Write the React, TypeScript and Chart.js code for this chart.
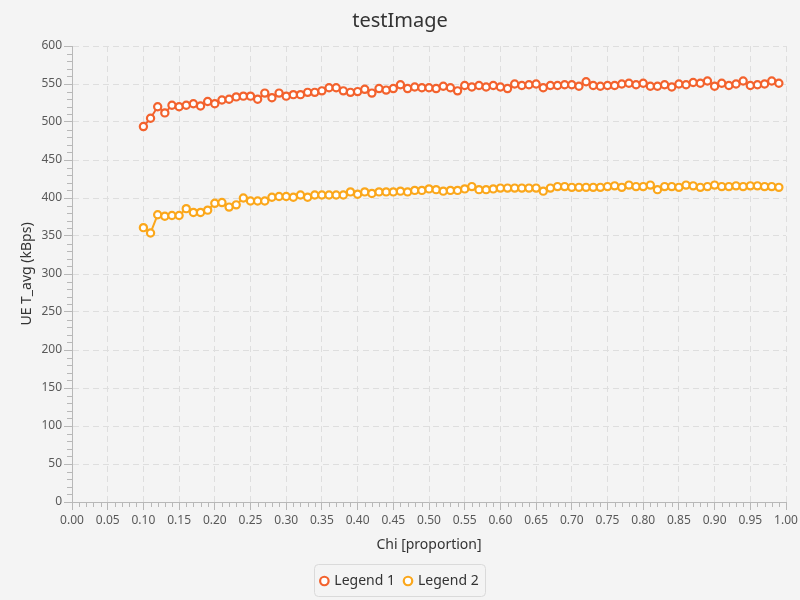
import React, { useEffect, useRef } from "react";
import { Chart, registerables } from "chart.js";

Chart.register(...registerables);

const TITLE = "testImage";
const X_TITLE = "Chi [proportion]";
const Y_TITLE = "UE T_avg (kBps)";
const SERIES_NAMES = ["Legend 1", "Legend 2"];

const X_VALUES = [
  0.10, 0.11, 0.12, 0.13, 0.14, 0.15, 0.16, 0.17, 0.18, 0.19,
  0.20, 0.21, 0.22, 0.23, 0.24, 0.25, 0.26, 0.27, 0.28, 0.29,
  0.30, 0.31, 0.32, 0.33, 0.34, 0.35, 0.36, 0.37, 0.38, 0.39,
  0.40, 0.41, 0.42, 0.43, 0.44, 0.45, 0.46, 0.47, 0.48, 0.49,
  0.50, 0.51, 0.52, 0.53, 0.54, 0.55, 0.56, 0.57, 0.58, 0.59,
  0.60, 0.61, 0.62, 0.63, 0.64, 0.65, 0.66, 0.67, 0.68, 0.69,
  0.70, 0.71, 0.72, 0.73, 0.74, 0.75, 0.76, 0.77, 0.78, 0.79,
  0.80, 0.81, 0.82, 0.83, 0.84, 0.85, 0.86, 0.87, 0.88, 0.89,
  0.90, 0.91, 0.92, 0.93, 0.94, 0.95, 0.96, 0.97, 0.98, 0.99,
];

const SERIES_1 = [
  494, 505, 520, 512, 522, 520, 522, 524, 521, 527,
  524, 529, 530, 533, 534, 534, 530, 538, 532, 538,
  534, 536, 536, 539, 539, 541, 545, 545, 541, 539,
  540, 543, 538, 544, 542, 544, 549, 544, 546, 545,
  545, 544, 547, 545, 541, 548, 546, 548, 546, 548,
  546, 544, 550, 548, 549, 550, 545, 548, 548, 549,
  549, 547, 553, 548, 547, 548, 548, 550, 551, 549,
  551, 547, 547, 549, 546, 550, 549, 552, 551, 554,
  547, 551, 548, 550, 554, 548, 549, 550, 554, 551,
];

const SERIES_2 = [
  361, 354, 378, 376, 377, 377, 386, 381, 381, 384,
  393, 394, 388, 391, 400, 396, 396, 396, 401, 402,
  402, 401, 404, 401, 404, 404, 404, 404, 404, 408,
  405, 408, 406, 408, 408, 408, 409, 408, 410, 410,
  412, 411, 409, 410, 410, 412, 415, 411, 411, 412,
  413, 413, 413, 413, 413, 413, 409, 413, 415, 415,
  414, 414, 414, 414, 414, 415, 416, 414, 417, 415,
  415, 417, 411, 415, 415, 414, 417, 416, 414, 415,
  417, 415, 415, 416, 415, 416, 416, 415, 415, 414,
];

const X_MIN = 0;
const X_MAX = 1;
const X_STEP = 0.05;
const X_MINOR_STEP = 0.01;
const Y_MIN = 0;
const Y_MAX = 600;
const Y_STEP = 50;
const Y_MINOR_STEP = 10;

const COLORS = ["#f3622d", "#fba71b"];
const BG = "#f4f4f4";
const AXIS_COLOR = "#b8b8b8";
const GRID_COLOR = "#dedede";
const FONT = "'Noto Sans', 'Open Sans', sans-serif";

const minorTicksPlugin = {
  id: "minorTicks",
  afterDraw(chart: any) {
    const { ctx } = chart;
    const xs = chart.scales.x;
    const ys = chart.scales.y;
    ctx.save();
    ctx.strokeStyle = AXIS_COLOR;
    ctx.lineWidth = 1;
    ctx.beginPath();
    const nx = Math.round((X_MAX - X_MIN) / X_MINOR_STEP);
    const perX = Math.round(X_STEP / X_MINOR_STEP);
    for (let i = 0; i <= nx; i++) {
      if (i % perX === 0) continue;
      const px = Math.round(xs.getPixelForValue(X_MIN + i * X_MINOR_STEP)) + 0.5;
      ctx.moveTo(px, ys.bottom);
      ctx.lineTo(px, ys.bottom + 5);
    }
    const ny = Math.round((Y_MAX - Y_MIN) / Y_MINOR_STEP);
    const perY = Math.round(Y_STEP / Y_MINOR_STEP);
    for (let i = 0; i <= ny; i++) {
      if (i % perY === 0) continue;
      const py = Math.round(ys.getPixelForValue(Y_MIN + i * Y_MINOR_STEP)) + 0.5;
      ctx.moveTo(xs.left - 5, py);
      ctx.lineTo(xs.left, py);
    }
    ctx.stroke();
    ctx.restore();
  },
};

const legendBoxPlugin = {
  id: "legendBox",
  beforeDraw(chart: any) {
    const { ctx } = chart;
    ctx.save();
    ctx.fillStyle = BG;
    ctx.fillRect(0, 0, chart.width, chart.height);
    ctx.restore();
  },
  afterDraw(chart: any) {
    const lg = chart.legend;
    if (!lg || !lg.legendHitBoxes || !lg.legendHitBoxes.length) return;
    const hb = lg.legendHitBoxes;
    const last = hb[hb.length - 1];
    const left = Math.round(hb[0].left - 7) + 0.5;
    const right = Math.round(last.left + last.width + 6) + 0.5;
    const top = Math.round(lg.top) + 0.5;
    const bottom = Math.round(lg.bottom - 2) + 0.5;
    const { ctx } = chart;
    ctx.save();
    ctx.beginPath();
    (ctx as any).roundRect(left, top, right - left, bottom - top, 4);
    ctx.strokeStyle = "#dadada";
    ctx.lineWidth = 1;
    ctx.stroke();
    ctx.restore();
  },
};

export default function App() {
  const ref = useRef<HTMLCanvasElement | null>(null);

  useEffect(() => {
    if (!ref.current) return;
    const datasets = [SERIES_1, SERIES_2].map((vals, k) => ({
      label: SERIES_NAMES[k],
      data: vals.map((v, i) => ({ x: X_VALUES[i], y: v })),
      borderColor: COLORS[k],
      backgroundColor: "#ffffff",
      borderWidth: 2,
      pointRadius: 3.6,
      pointBorderWidth: 2.2,
      pointBackgroundColor: "#ffffff",
      pointBorderColor: COLORS[k],
      pointStyle: "circle",
      tension: 0,
      fill: false,
    }));

    const chart = new Chart(ref.current, {
      type: "line",
      data: { datasets },
      plugins: [legendBoxPlugin, minorTicksPlugin],
      options: {
        animation: false,
        responsive: false,
        events: [],
        layout: { padding: { left: 0, right: 0, top: 2, bottom: 2 } },
        scales: {
          x: {
            type: "linear",
            min: X_MIN,
            max: X_MAX,
            afterFit: (s: any) => {
              s.height = 62;
              s.paddingLeft = 0;
              s.paddingRight = 14;
            },
            ticks: {
              stepSize: X_STEP,
              autoSkip: false,
              maxRotation: 0,
              padding: 3,
              color: "#595959",
              font: { family: FONT, size: 12 },
              callback: (v: any) => Number(v).toFixed(2),
            },
            grid: {
              color: GRID_COLOR,
              tickColor: AXIS_COLOR,
              tickLength: 8,
              tickBorderDash: [],
            },
            border: { display: true, color: AXIS_COLOR, dash: [6, 4] },
            title: {
              display: true,
              text: X_TITLE,
              color: "#333333",
              font: { family: FONT, size: 14 },
              padding: { top: 0, bottom: 11 },
            },
          },
          y: {
            type: "linear",
            min: Y_MIN,
            max: Y_MAX,
            afterFit: (s: any) => {
              s.width = 72;
            },
            ticks: {
              stepSize: Y_STEP,
              padding: 2,
              color: "#595959",
              font: { family: FONT, size: 12 },
            },
            grid: {
              color: GRID_COLOR,
              tickColor: AXIS_COLOR,
              tickLength: 8,
              tickBorderDash: [],
            },
            border: { display: true, color: AXIS_COLOR, dash: [6, 4] },
            title: {
              display: true,
              text: Y_TITLE,
              color: "#333333",
              font: { family: FONT, size: 14 },
              padding: { top: 19, bottom: 0 },
            },
          },
        },
        plugins: {
          title: {
            display: true,
            text: TITLE,
            color: "#333333",
            font: { family: FONT, size: 20, weight: "normal" },
            padding: { top: 7, bottom: 13 },
          },
          legend: {
            display: true,
            position: "bottom",
            labels: {
              usePointStyle: true,
              pointStyle: "circle",
              boxWidth: 6,
              boxHeight: 6,
              padding: 10,
              color: "#333333",
              font: { family: FONT, size: 14 },
            },
          },
          tooltip: { enabled: false },
        },
      } as any,
    });
    return () => chart.destroy();
  }, []);

  return (
    <div
      style={{
        position: "absolute",
        left: 0,
        top: 0,
        width: 800,
        height: 600,
        background: BG,
      }}
    >
      <canvas ref={ref} width={800} height={600} style={{ display: "block" }} />
    </div>
  );
}
